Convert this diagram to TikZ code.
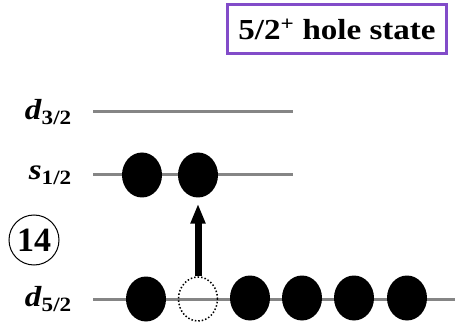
\documentclass[tikz,border=0pt]{standalone}
\usepackage{fontspec}
\setmainfont{Liberation Serif}
\newfontfamily\widerm[FakeStretch=1.14]{Liberation Serif}
\usetikzlibrary{arrows.meta,shapes.geometric}
\begin{document}
\begin{tikzpicture}[x=1pt,y=-1pt,
  level/.style={draw=black!48,line width=3pt},
  ball/.style={fill=black,ellipse,minimum width=40pt,minimum height=45pt,inner sep=0pt},
  hole/.style={draw=black,dotted,line width=1.5pt,ellipse,minimum width=39pt,minimum height=44pt,inner sep=0pt},
  lab/.style={font=\widerm\fontsize{29}{29}\selectfont\bfseries},
]
\useasboundingbox (0,0) rectangle (456,329);
\node[draw=violet!60!blue!70!white,line width=2.5pt,minimum width=219pt,minimum height=49pt,inner sep=0pt,
  font=\widerm\fontsize{29}{29}\selectfont\bfseries] (title) at (337,29) {5/2\textsuperscript{+} hole state};
% levels
\coordinate (d3a) at (93,112); \coordinate (d3b) at (293,112);
\coordinate (s1a) at (93,175); \coordinate (s1b) at (293,175);
\coordinate (d5a) at (93,299); \coordinate (d5b) at (455,299);
\draw[level] (d3a) -- (d3b);
\draw[level] (s1a) -- (s1b);
\draw[level] (d5a) -- (d5b);
% labels
\node[lab,anchor=east,inner sep=0pt] (ld3) at (72,112) {\textit{d}\textsubscript{3/2}};
\node[lab,anchor=east,inner sep=0pt] (ls1) at (72,175) {\textit{s}\textsubscript{1/2}};
\node[lab,anchor=east,inner sep=0pt] (ld5) at (72,299) {\textit{d}\textsubscript{5/2}};
\node[draw,circle,line width=1pt,minimum size=50pt,inner sep=0pt,
  font=\fontsize{34}{34}\selectfont\bfseries] (n14) at (34,240) {14};
% particles
\node[ball] (s1) at (142,175) {};
\node[ball] (s2) at (198,175) {};
\node[ball] (p1) at (146,299) {};
\node[hole] (h) at (198,299) {};
\node[ball] (p3) at (250,298) {};
\node[ball] (p4) at (302,298) {};
\node[ball] (p5) at (354,298) {};
\node[ball] (p6) at (407,298) {};
\draw[line width=7pt,-{Triangle[length=20pt,width=14pt]}] (h.north) -- ([yshift=-6pt]s2.south);
\end{tikzpicture}
\end{document}
